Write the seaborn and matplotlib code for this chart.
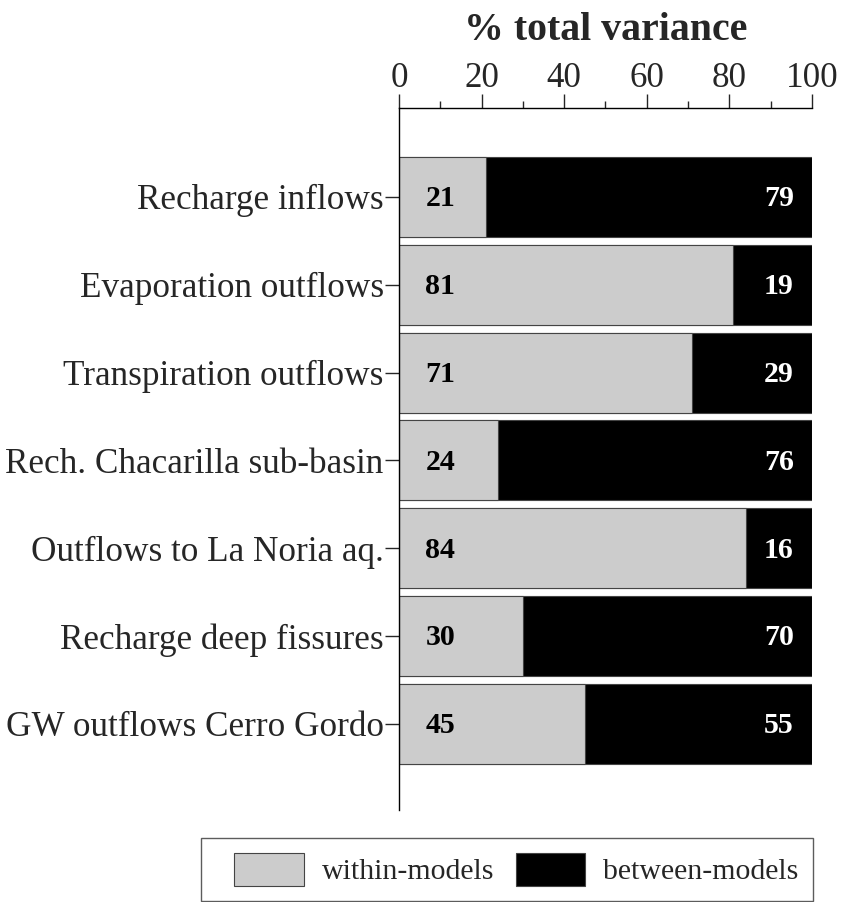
import matplotlib
matplotlib.use("Agg")
import matplotlib.pyplot as plt
import seaborn as sns
import pandas as pd
from matplotlib.patches import Patch, Rectangle
from matplotlib.legend_handler import HandlerPatch
from matplotlib.ticker import MultipleLocator

# ----------------------------
# DATA
# ----------------------------
categories = [
    "Recharge inflows",
    "Evaporation outflows",
    "Transpiration outflows",
    "Rech. Chacarilla sub-basin",
    "Outflows to La Noria aq.",
    "Recharge deep fissures",
    "GW outflows Cerro Gordo",
]
within_models = [21, 81, 71, 24, 84, 30, 45]
between_models = [79, 19, 29, 76, 16, 70, 55]

df = pd.DataFrame({
    "category": categories,
    "within": within_models,
    "between": between_models,
})
df["total"] = df["within"] + df["between"]

sns.set_style("white")
plt.rcParams["font.family"] = ["Liberation Serif", "DejaVu Serif"]

fig = plt.figure(figsize=(8.41, 9.02), dpi=100)
ax = fig.add_axes([0.4744, 0.102, 0.491, 0.778])

GREY = "#cccccc"
EDGE = "#444444"

# black total bar underneath, grey within-models bar on top
sns.barplot(data=df, x="total", y="category", orient="h", color="black",
            width=0.91, edgecolor=EDGE, linewidth=0.8, ax=ax)
sns.barplot(data=df, x="within", y="category", orient="h", color=GREY,
            width=0.91, edgecolor=EDGE, linewidth=0.8, ax=ax)

# value labels
for i, row in df.iterrows():
    ax.text(10, i + 0.02, str(row["within"]), ha="center", va="center",
            fontsize=21.5, fontweight="bold", color="black")
    ax.text(92, i + 0.02, str(row["between"]), ha="center", va="center",
            fontsize=21.5, fontweight="bold", color="white")

ax.set_xlim(0, 100)
ax.set_ylim(6.98, -1.01)

ax.xaxis.tick_top()
ax.xaxis.set_label_position("top")
ax.xaxis.set_major_locator(MultipleLocator(20))
ax.xaxis.set_minor_locator(MultipleLocator(10))
ax.tick_params(axis="x", which="major", direction="out", length=10, width=1,
               labelsize=25.2, pad=-0.5, top=True, bottom=False)
ax.tick_params(axis="x", which="minor", direction="out", length=5, width=1,
               top=True, bottom=False)
ax.tick_params(axis="y", which="major", direction="out", length=10, width=1,
               labelsize=25.3, pad=1, left=True)
ax.set_xlabel("% total variance", fontsize=28.7, fontweight="bold", labelpad=16)
ax.set_ylabel("")

for side in ["right", "bottom"]:
    ax.spines[side].set_visible(False)
for side in ["left", "top"]:
    ax.spines[side].set_color("black")
    ax.spines[side].set_linewidth(1)


# legend swatches sit a little in from the left of their handle box
def inset_box(legend, orig_handle, xdescent, ydescent, width, height, fontsize):
    off = 0.21 * width
    return Rectangle((-xdescent + off, -ydescent), width - off, height)


handles = [
    Patch(facecolor=GREY, edgecolor=EDGE, linewidth=0.8, label="within-models"),
    Patch(facecolor="black", edgecolor=EDGE, linewidth=0.8, label="between-models"),
]
leg = fig.legend(handles=handles, loc="upper left",
                 bbox_to_anchor=(201 / 841, 1 - 838 / 902),
                 ncol=2, fontsize=21.5, frameon=True, fancybox=False,
                 handlelength=2.95, handleheight=1.31, handletextpad=0.59,
                 columnspacing=0.1, borderpad=0.5, borderaxespad=0,
                 handler_map={Patch: HandlerPatch(patch_func=inset_box)})
leg.get_frame().set_edgecolor("#333333")
leg.get_frame().set_linewidth(1)

fig.savefig("out.png", dpi=100)
